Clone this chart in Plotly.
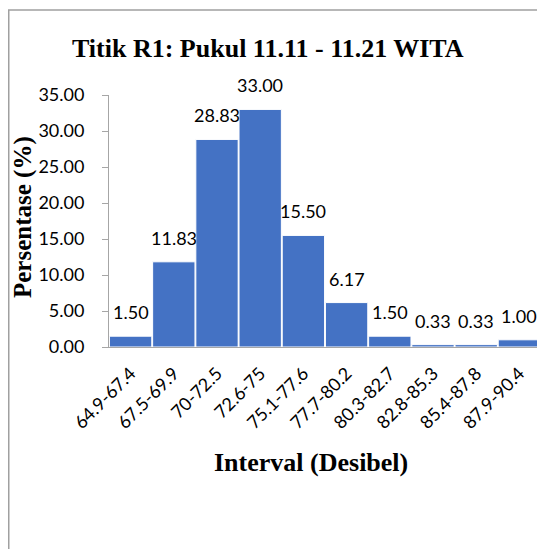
import plotly.graph_objects as go

categories = ["64.9-67.4", "67.5-69.9", "70-72.5", "72.6-75", "75.1-77.6",
              "77.7-80.2", "80.3-82.7", "82.8-85.3", "85.4-87.8", "87.9-90.4"]
values = [1.50, 11.83, 28.83, 33.00, 15.50, 6.17, 1.50, 0.33, 0.33, 1.00]
yticks = [0, 5, 10, 15, 20, 25, 30, 35]

# page body has 8px margin, so figure pixel = reference pixel - 8
W, H = 537, 541
L, R, T, B = 101, 4, 87, 202

fig = go.Figure(go.Bar(
    x=categories, y=values,
    marker=dict(color="#4472C4", line=dict(color="white", width=1)),
    cliponaxis=False,
))

def px_x(px):
    return (px - L) / (W - L - R)

def px_y(py):
    return (H - B - py) / (H - T - B)

annotations = [
    dict(x=c, y=v, xref="x", yref="y", text=f"{v:.2f}", showarrow=False,
         xanchor="center", yanchor="bottom", yshift=11,
         font=dict(family="Lato", size=18, color="black"))
    for c, v in zip(categories, values)
]
annotations += [
    dict(text="<b>Titik R1: Pukul 11.11 - 11.21 WITA</b>", xref="paper", yref="paper",
         x=px_x(260), y=px_y(40), xanchor="center", yanchor="middle", showarrow=False,
         font=dict(family="Liberation Serif", size=26, color="black")),
    dict(text="<b>Persentase (%)</b>", xref="paper", yref="paper",
         x=px_x(15), y=px_y(209), xanchor="center", yanchor="middle", showarrow=False,
         textangle=-90, font=dict(family="Liberation Serif", size=25, color="black")),
    dict(text="<b>Interval (Desibel)</b>", xref="paper", yref="paper",
         x=px_x(303), y=px_y(454), xanchor="center", yanchor="middle", showarrow=False,
         font=dict(family="Liberation Serif", size=26, color="black")),
]

fig.update_layout(
    width=W, height=H,
    margin=dict(l=L, r=R, t=T, b=B),
    paper_bgcolor="white", plot_bgcolor="white",
    bargap=0.02, showlegend=False,
    xaxis=dict(showline=True, linecolor="#A6A6A6", linewidth=1, ticks="",
               tickangle=-45, ticklabelstandoff=8,
               tickfont=dict(family="Lato", size=18, color="black"),
               showgrid=False),
    yaxis=dict(range=[0, 35], tickvals=yticks, tickformat=".2f",
               showline=True, linecolor="#A6A6A6", linewidth=1,
               ticks="outside", ticklen=6, tickcolor="#A6A6A6",
               ticklabelstandoff=14,
               tickfont=dict(family="Lato", size=18, color="black"),
               showgrid=False, zeroline=False),
    annotations=annotations,
    shapes=[
        dict(type="rect", xref="paper", yref="paper",
             x0=px_x(0.75), y0=px_y(560), x1=px_x(560), y1=px_y(2),
             line=dict(color="#A0A0A0", width=1.5), fillcolor="rgba(0,0,0,0)", layer="below"),
    ],
)

fig.write_html("out.html")
